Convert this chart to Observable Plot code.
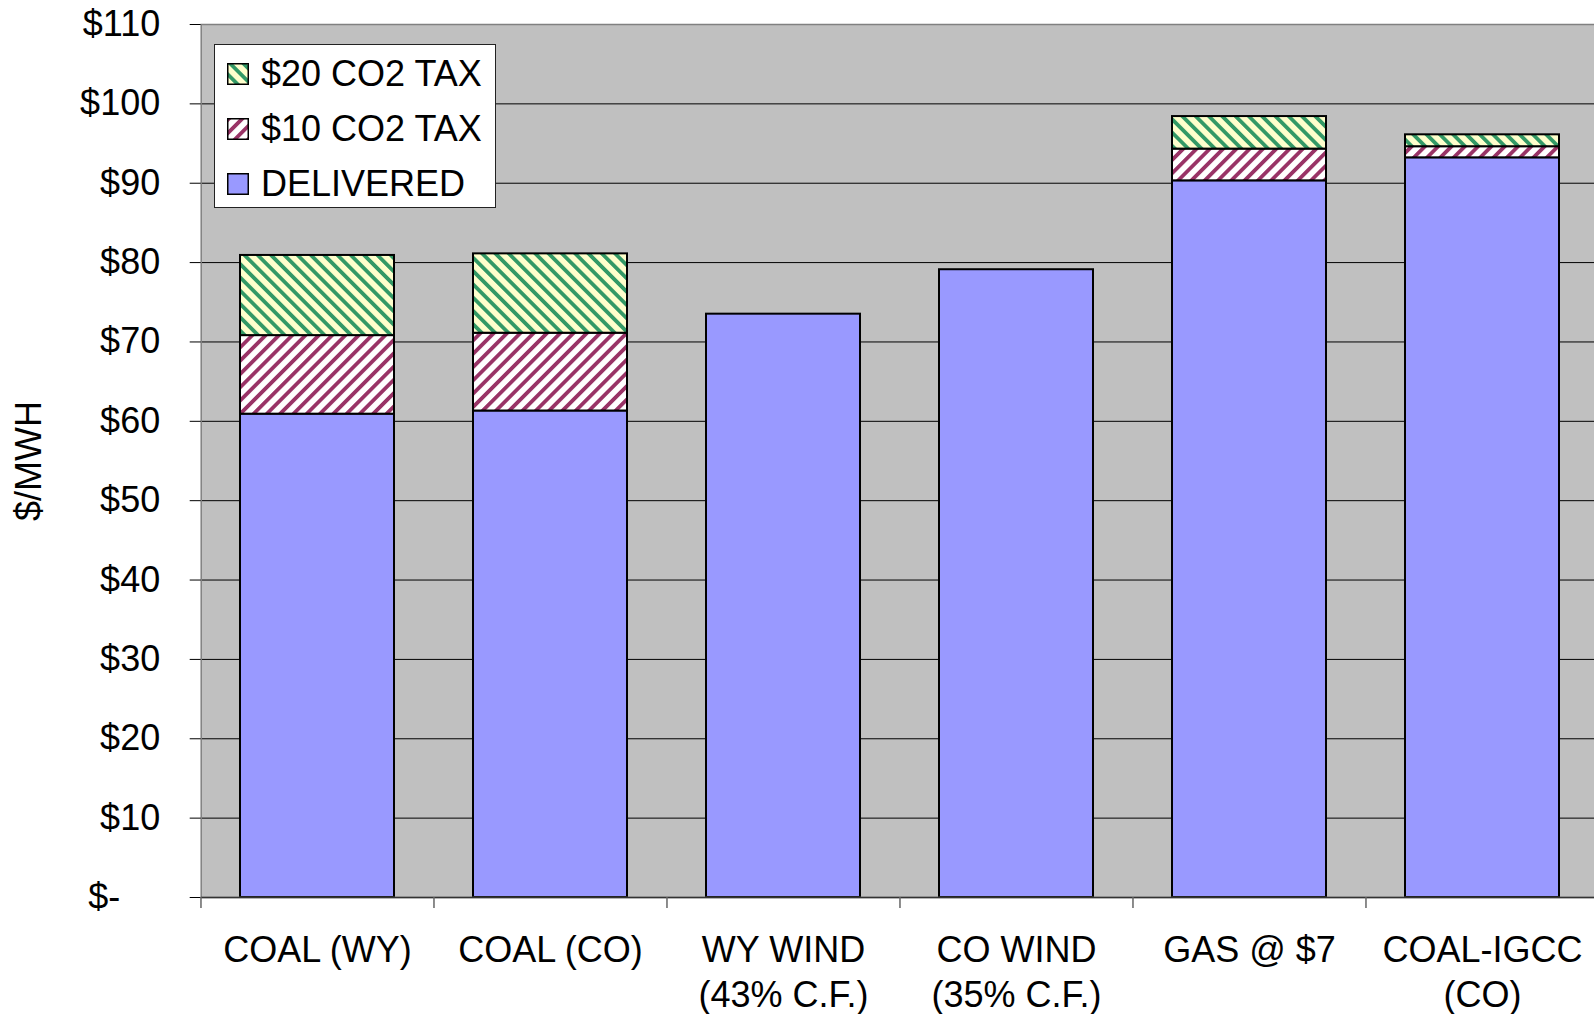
<!DOCTYPE html>
<html><head><meta charset="utf-8">
<script src="https://cdn.jsdelivr.net/npm/d3@7"></script>
<script src="https://cdn.jsdelivr.net/npm/@observablehq/plot@0.6"></script>
<style>
html,body{margin:0;padding:0;background:#fff;overflow:hidden;width:1594px;height:1014px}
#wrap{position:relative;width:1600px;height:1014px}
#legend{position:absolute;left:214px;top:44px;width:280px;height:162px;background:#fff;border:1px solid #222;font-family:"Liberation Sans",Arial,sans-serif;font-size:36px;color:#000}
.row{position:absolute;left:12px;height:44px;display:flex;align-items:center;white-space:nowrap}
.row svg{margin-right:12px;display:block}
</style></head><body>
<svg width="0" height="0" style="position:absolute">
<defs>
<pattern id="p20" patternUnits="userSpaceOnUse" width="9.4" height="9.4" patternTransform="rotate(-45)">
<rect width="9.4" height="9.4" fill="#ffffcc"/><rect width="3.8" height="9.4" fill="#339966"/>
</pattern>
<pattern id="p10" patternUnits="userSpaceOnUse" width="9.4" height="9.4" patternTransform="rotate(45)">
<rect width="9.4" height="9.4" fill="#ffffff"/><rect width="3.8" height="9.4" fill="#993366"/>
</pattern>
</defs></svg>
<div id="wrap"><div id="legend"></div></div>
<script>
// ---- data ----
const categories = ["COAL (WY)", "COAL (CO)", "WY WIND\n(43% C.F.)", "CO WIND\n(35% C.F.)", "GAS @ $7", "COAL-IGCC\n(CO)"];
const seriesNames = ["DELIVERED", "$10 CO2 TAX", "$20 CO2 TAX"];
const delivered = [60.9, 61.3, 73.5, 79.1, 90.3, 93.2];
const tax10 = [9.9, 9.8, 0, 0, 4.0, 1.4];
const tax20 = [10.1, 10.0, 0, 0, 4.1, 1.5];
const yTicks = [0, 10, 20, 30, 40, 50, 60, 70, 80, 90, 100, 110];
const seriesFills = ["#9999ff", "url(#p10)", "url(#p20)"];

const rows = categories.flatMap((c, i) => [
  {cat: c, series: seriesNames[0], value: delivered[i]},
  {cat: c, series: seriesNames[1], value: tax10[i]},
  {cat: c, series: seriesNames[2], value: tax20[i]}
]).filter(d => d.value > 0);

const W = 1600, H = 1014, ML = 200.7, MT = 24, MB = 117, MR = 1;
const step = (W - MR - ML) / categories.length;
const FONT = '"Liberation Sans", Arial, sans-serif';

const chart = Plot.plot({
  width: W, height: H,
  marginLeft: ML, marginTop: MT, marginBottom: MB, marginRight: MR,
  style: {fontFamily: FONT, fontSize: "36px", background: "transparent", overflow: "visible", maxWidth: "none"},
  x: {domain: categories, paddingInner: 0.337, paddingOuter: 0.1685, axis: null},
  y: {domain: [0, 110], axis: null},
  color: {domain: seriesNames, range: seriesFills},
  marks: [
    Plot.frame({fill: "#c0c0c0"}),
    Plot.ruleY(yTicks.filter(t => t > 0 && t < 110), {stroke: "#000", strokeWidth: 1}),
    Plot.barY(rows, {x: "cat", y: "value", fill: "series", stroke: "#000", strokeWidth: 2}),
    Plot.frame({stroke: "#808080", strokeWidth: 1.5}),
    Plot.ruleY([0], {stroke: "#333", strokeWidth: 1.5}),
    Plot.axisY({ticks: yTicks, tickSize: 11, tickPadding: 30, fontSize: 36, stroke: "#000", label: null,
      tickFormat: d => d === 0 ? "$-\u2007\u2007" : "$" + d}),
    Plot.ruleX(categories, {x: d => d, y1: 0, y2: 0, insetBottom: -11, dx: -step / 2, stroke: "#666", strokeWidth: 1.5}),
    Plot.text(categories, {x: d => d, frameAnchor: "bottom", lineAnchor: "top", dy: 33, fontSize: 36, lineHeight: 1.25, fill: "#000"}),
    Plot.text(["$/MWH"], {frameAnchor: "left", textAnchor: "middle", rotate: -90, dx: -172, fontSize: 36, fill: "#000"})
  ]
});
document.getElementById("wrap").prepend(chart);

// ---- legend ----
const legend = document.getElementById("legend");
const centers = [29.3, 84, 139];
seriesNames.slice().reverse().forEach((name, k) => {
  const idx = seriesNames.indexOf(name);
  const row = document.createElement("div");
  row.className = "row";
  row.style.top = (centers[k] - 22) + "px";
  row.innerHTML = `<svg width="22" height="22"><rect x="0.75" y="0.75" width="20.5" height="20.5" fill="${seriesFills[idx]}" stroke="#000" stroke-width="1.5"/></svg><span></span>`;
  row.querySelector("span").textContent = name;
  legend.appendChild(row);
});
</script>
</body></html>
